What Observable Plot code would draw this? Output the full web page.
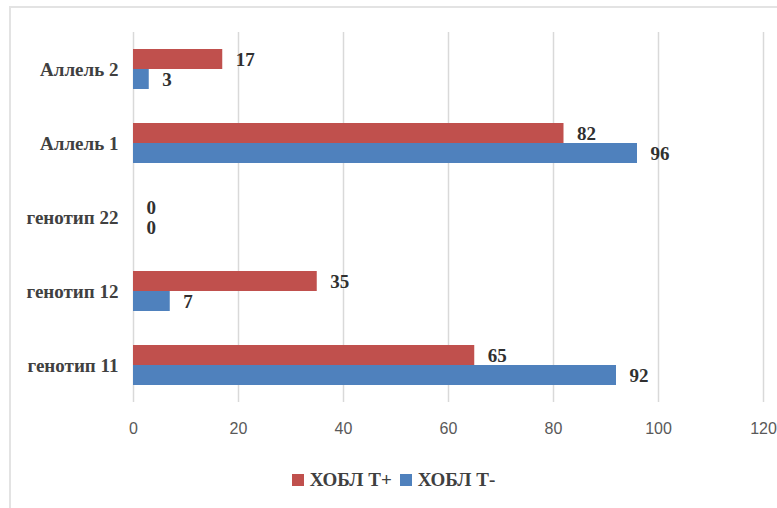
<!DOCTYPE html>
<html>
<head>
<meta charset="utf-8">
<script src="https://cdn.jsdelivr.net/npm/d3@7"></script>
<script src="https://cdn.jsdelivr.net/npm/@observablehq/plot@0.6"></script>
<style>
  html, body { margin: 0; padding: 0; background: #fff; }
  #wrap { position: relative; width: 777px; height: 508px; overflow: hidden; }
  #frame { position: absolute; left: 9px; top: 6px; width: 800px; height: 520px;
           border-top: 2px solid #e3e3e3; border-left: 2px solid #e3e3e3; box-sizing: border-box; pointer-events: none; }
  #chart svg { display: block; }
  #legend { display: flex; justify-content: center; align-items: center; padding-left: 10px;
            margin-top: 8px; height: 24px; font: bold 19px "Liberation Serif", serif; color: #404040; }
  .item { display: flex; align-items: center; margin: 0 4px; }
  .swatch { width: 12px; height: 12px; margin-right: 6px; }
</style>
</head>
<body>
<div id="wrap">
  <div id="chart"></div>
  <div id="legend"></div>
  <div id="frame"></div>
</div>
<script>
// Categories, listed top to bottom
const categories = ["Аллель 2", "Аллель 1", "генотип 22", "генотип 12", "генотип 11"];
// Series names and colours
const seriesNames = ["ХОБЛ Т+", "ХОБЛ Т-"];
const seriesColors = ["#C0504D", "#4F81BD"];
// Values per category, same order as categories
const valuesTPlus = [17, 82, 0, 35, 65];
const valuesTMinus = [3, 96, 0, 7, 92];
// X axis ticks
const xTicks = [0, 20, 40, 60, 80, 100, 120];

const rows = categories.flatMap((c, i) => [
  {category: c, series: seriesNames[0], value: valuesTPlus[i]},
  {category: c, series: seriesNames[1], value: valuesTMinus[i]}
]);

const chart = Plot.plot({
  width: 777,
  height: 460,
  marginLeft: 133,
  marginRight: 14,
  marginTop: 32,
  marginBottom: 58,
  x: {domain: [0, 120]},
  y: {domain: seriesNames, paddingInner: 0, paddingOuter: 0.85, axis: null},
  fy: {domain: categories, padding: 0},
  color: {domain: seriesNames, range: seriesColors},
  marks: [
    Plot.gridX(xTicks, {stroke: "#d9d9d9", strokeOpacity: 1, strokeWidth: 1.5}),
    Plot.barX(rows, {x: "value", y: "series", fy: "category", fill: "series"}),
    Plot.text(rows, {
      x: "value", y: "series", fy: "category",
      text: d => String(d.value),
      textAnchor: "start", dx: 13,
      fontFamily: "Liberation Serif", fontWeight: "bold", fontSize: 19, fill: "#303030"
    }),
    Plot.axisX({
      ticks: xTicks, tickSize: 0, tickPadding: 20, label: null,
      fontFamily: "Liberation Sans", fontSize: 16, fill: "#595959"
    }),
    Plot.axisFy({
      anchor: "left", tickSize: 0, tickPadding: 15, label: null,
      fontFamily: "Liberation Serif", fontWeight: "bold", fontSize: 19, fill: "#404040"
    })
  ]
});
document.getElementById("chart").appendChild(chart);

// Legend below the chart
const legend = document.getElementById("legend");
seriesNames.forEach((name, i) => {
  const item = document.createElement("div");
  item.className = "item";
  const sw = document.createElement("span");
  sw.className = "swatch";
  sw.style.background = seriesColors[i];
  const label = document.createElement("span");
  label.textContent = name;
  item.appendChild(sw);
  item.appendChild(label);
  legend.appendChild(item);
});
</script>
</body>
</html>
